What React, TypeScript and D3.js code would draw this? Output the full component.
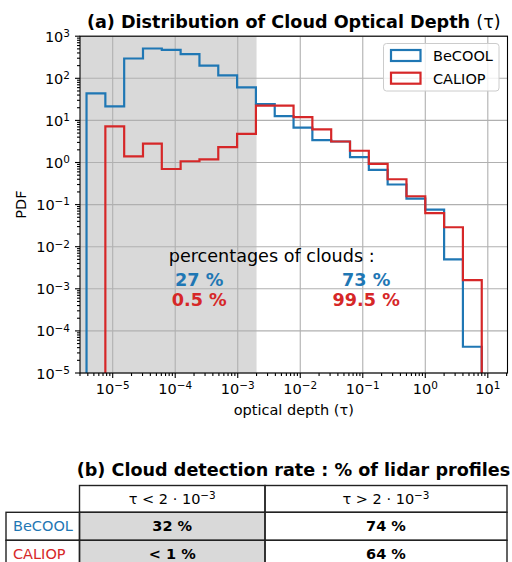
import React, { useEffect, useRef } from 'react';
import * as d3 from 'd3';

// histogram bins: edges are powers of two, 2^-18 ... 2^3
const binEdgeExponents = [-18, -17, -16, -15, -14, -13, -12, -11, -10, -9, -8, -7, -6, -5, -4, -3, -2, -1, 0, 1, 2, 3];
const becoolPdf = [44, 21.5, 295, 510, 474, 374, 201, 117, 61, 24.5, 12.7, 6.7, 3.4, 3.15, 1.34, 0.67, 0.3, 0.139, 0.076, 0.005, 4.2e-5];
const caliopPdf = [0, 7.2, 1.4, 2.8, 0.7, 1.07, 1.19, 2.33, 4.8, 22.5, 22.5, 12, 6.1, 3.15, 1.9, 0.93, 0.4, 0.158, 0.063, 0.029, 1.6e-3];
const seriesNames = ['BeCOOL', 'CALIOP'];
const seriesColors = ['#1f77b4', '#d62728'];
const thinLimit = 2e-3;

const xTickExponents = [-5, -4, -3, -2, -1, 0, 1];
const yTickExponents = [-5, -4, -3, -2, -1, 0, 1, 2, 3];

const thinShares = ['27 %', '0.5 %'];
const thickShares = ['73 %', '99.5 %'];

const tableRowNames = ['BeCOOL', 'CALIOP'];
const thinRates = ['32 %', '< 1 %'];
const thickRates = ['74 %', '64 %'];

const FONT = '"DejaVu Sans", sans-serif';

function addPower(sel: any, base: string, exp: number) {
  sel.append('tspan').text(base);
  sel
    .append('tspan')
    .attr('dy', '-0.45em')
    .attr('font-size', '0.72em')
    .text(exp < 0 ? '\u2212' + Math.abs(exp) : String(exp));
}

function Chart() {
  const ref = useRef<SVGSVGElement>(null);

  useEffect(() => {
    if (!ref.current) return;
    const svg = d3.select(ref.current);
    svg.selectAll('*').remove();

    const left = 80;
    const right = 507.5;
    const top = 36.2;
    const bottom = 373;

    const x = d3
      .scaleLog()
      .domain([Math.pow(10, -5.523), Math.pow(10, 1.315)])
      .range([left, right]);
    const y = d3.scaleLog().domain([1e-5, 1e3]).range([bottom, top]);

    svg
      .append('defs')
      .append('clipPath')
      .attr('id', 'plotclip')
      .append('rect')
      .attr('x', left)
      .attr('y', top)
      .attr('width', right - left)
      .attr('height', bottom - top);

    // shaded optically thin region
    svg
      .append('rect')
      .attr('x', left)
      .attr('y', top)
      .attr('width', x(thinLimit) - left)
      .attr('height', bottom - top)
      .attr('fill', '#d9d9d9');

    // grid
    const grid = svg.append('g').attr('stroke', '#b0b0b0').attr('stroke-width', 1.1);
    xTickExponents.forEach((e) => {
      grid.append('line').attr('x1', x(10 ** e)).attr('x2', x(10 ** e)).attr('y1', top).attr('y2', bottom);
    });
    yTickExponents.forEach((e) => {
      grid.append('line').attr('x1', left).attr('x2', right).attr('y1', y(10 ** e)).attr('y2', y(10 ** e));
    });

    // step histograms
    const edges = binEdgeExponents.map((k) => Math.pow(2, k));
    const line = d3
      .line<[number, number]>()
      .x((d) => x(d[0]))
      .y((d) => (d[1] > 0 ? y(d[1]) : bottom + 20));
    const stepPoints = (vals: number[]) => {
      const pts: [number, number][] = [[edges[0], 0]];
      vals.forEach((v, i) => {
        pts.push([edges[i], v], [edges[i + 1], v]);
      });
      pts.push([edges[edges.length - 1], 0]);
      return pts;
    };
    const hists = svg.append('g').attr('clip-path', 'url(#plotclip)');
    [becoolPdf, caliopPdf].forEach((vals, i) => {
      hists
        .append('path')
        .attr('d', line(stepPoints(vals)))
        .attr('fill', 'none')
        .attr('stroke', seriesColors[i])
        .attr('stroke-width', 2.2)
        .attr('stroke-linejoin', 'miter');
    });

    // spines
    svg
      .append('rect')
      .attr('x', left)
      .attr('y', top)
      .attr('width', right - left)
      .attr('height', bottom - top)
      .attr('fill', 'none')
      .attr('stroke', '#000')
      .attr('stroke-width', 1.1);

    // ticks
    const ticks = svg.append('g').attr('stroke', '#000').attr('stroke-width', 1.1);
    const xd = x.domain();
    const yd = y.domain();
    for (let k = -6; k <= 1; k++) {
      for (let m = 1; m <= 9; m++) {
        const v = m * 10 ** k;
        if (v >= xd[0] && v <= xd[1]) {
          ticks.append('line').attr('x1', x(v)).attr('x2', x(v)).attr('y1', bottom).attr('y2', bottom + (m === 1 ? 5 : 3));
        }
        if (v >= yd[0] * 0.999 && v <= yd[1] * 1.001) {
          ticks.append('line').attr('y1', y(v)).attr('y2', y(v)).attr('x1', left).attr('x2', left - (m === 1 ? 5 : 3));
        }
      }
    }
    for (let k = 2; k <= 3; k++) {
      for (let m = 1; m <= 9; m++) {
        const v = m * 10 ** k;
        if (v <= yd[1] * 1.001) {
          ticks.append('line').attr('y1', y(v)).attr('y2', y(v)).attr('x1', left).attr('x2', left - (m === 1 ? 5 : 3));
        }
      }
    }

    const labels = svg.append('g').attr('font-family', FONT).attr('font-size', 14.5).attr('fill', '#000');
    xTickExponents.forEach((e) => {
      const t = labels.append('text').attr('x', x(10 ** e)).attr('y', 394).attr('text-anchor', 'middle');
      addPower(t, '10', e);
    });
    yTickExponents.forEach((e) => {
      const t = labels.append('text').attr('x', 70).attr('y', y(10 ** e) + 5.5).attr('text-anchor', 'end');
      addPower(t, '10', e);
    });

    // axis labels and title
    labels
      .append('text')
      .attr('x', (left + right) / 2)
      .attr('y', 415)
      .attr('text-anchor', 'middle')
      .text('optical depth (\u03c4)');
    labels
      .append('text')
      .attr('transform', `translate(26,${(top + bottom) / 2}) rotate(-90)`)
      .attr('text-anchor', 'middle')
      .text('PDF');
    const title = svg
      .append('text')
      .attr('x', (left + right) / 2)
      .attr('y', 27.5)
      .attr('text-anchor', 'middle')
      .attr('font-family', FONT)
      .attr('font-size', 17.6)
      .attr('font-weight', 'bold');
    title.append('tspan').text('(a) Distribution of Cloud Optical Depth ');
    title.append('tspan').attr('font-weight', 'normal').text('(\u03c4)');

    // legend
    const lg = svg.append('g').attr('font-family', FONT).attr('font-size', 14.5);
    lg.append('rect')
      .attr('x', 383.5)
      .attr('y', 43.5)
      .attr('width', 115.5)
      .attr('height', 47.5)
      .attr('rx', 3)
      .attr('fill', 'rgba(255,255,255,0.8)')
      .attr('stroke', '#cccccc');
    seriesNames.forEach((name, i) => {
      lg.append('rect')
        .attr('x', 391)
        .attr('y', 50 + i * 22.7)
        .attr('width', 29.5)
        .attr('height', 11)
        .attr('fill', 'none')
        .attr('stroke', seriesColors[i])
        .attr('stroke-width', 2.2);
      lg.append('text').attr('x', 433).attr('y', 61 + i * 22.7).text(name);
    });

    // percentage annotations
    const ann = svg.append('g').attr('font-family', FONT).attr('text-anchor', 'middle');
    ann.append('text').attr('x', 271.7).attr('y', 261.7).attr('font-size', 17.6).text('percentages of clouds :');
    [thinShares, thickShares].forEach((shares, j) => {
      const cx = j === 0 ? 199.2 : 366.2;
      shares.forEach((s, i) => {
        ann
          .append('text')
          .attr('x', cx)
          .attr('y', 286 + i * 20)
          .attr('font-size', 17.6)
          .attr('font-weight', 'bold')
          .attr('fill', seriesColors[i])
          .text(s);
      });
    });

    // table (b)
    const tb = svg.append('g').attr('font-family', FONT).attr('font-size', 14.5);
    tb.append('text')
      .attr('x', 293.5)
      .attr('y', 476)
      .attr('text-anchor', 'middle')
      .attr('font-size', 17.6)
      .attr('font-weight', 'bold')
      .text('(b) Cloud detection rate : % of lidar profiles');

    const colX = [6, 79.5, 265, 507];
    const rowY = [485.5, 512.3, 540.3, 568];
    // gray cells
    tableRowNames.forEach((_, i) => {
      tb.append('rect')
        .attr('x', colX[1])
        .attr('y', rowY[i + 1])
        .attr('width', colX[2] - colX[1])
        .attr('height', rowY[i + 2] - rowY[i + 1])
        .attr('fill', '#d9d9d9');
    });
    const headers = [
      ['\u03c4 < 2 \u00b7 ', '10', -3],
      ['\u03c4 > 2 \u00b7 ', '10', -3],
    ] as const;
    headers.forEach((h, j) => {
      const t = tb
        .append('text')
        .attr('x', (colX[j + 1] + colX[j + 2]) / 2)
        .attr('y', 503.5)
        .attr('text-anchor', 'middle');
      t.append('tspan').text(h[0]);
      addPower(t, h[1], h[2]);
    });
    tableRowNames.forEach((name, i) => {
      const base = rowY[i + 2] - 9.5;
      tb.append('text').attr('x', 13).attr('y', base).attr('fill', seriesColors[i]).text(name);
      [thinRates[i], thickRates[i]].forEach((v, j) => {
        tb.append('text')
          .attr('x', (colX[j + 1] + colX[j + 2]) / 2)
          .attr('y', base)
          .attr('text-anchor', 'middle')
          .attr('font-weight', 'bold')
          .text(v);
      });
    });
    // cell borders
    const bd = tb.append('g').attr('fill', 'none').attr('stroke', '#222').attr('stroke-width', 1.4);
    for (let j = 1; j <= 2; j++) {
      bd.append('rect').attr('x', colX[j]).attr('y', rowY[0]).attr('width', colX[j + 1] - colX[j]).attr('height', rowY[1] - rowY[0]);
    }
    for (let i = 1; i <= 2; i++) {
      for (let j = 0; j <= 2; j++) {
        bd.append('rect').attr('x', colX[j]).attr('y', rowY[i]).attr('width', colX[j + 1] - colX[j]).attr('height', rowY[i + 1] - rowY[i]);
      }
    }
  }, []);

  return (
    <svg
      ref={ref}
      width={512}
      height={562}
      style={{ position: 'absolute', left: 0, top: 0, background: '#fff' }}
    />
  );
}

export default function App() {
  return <Chart />;
}
